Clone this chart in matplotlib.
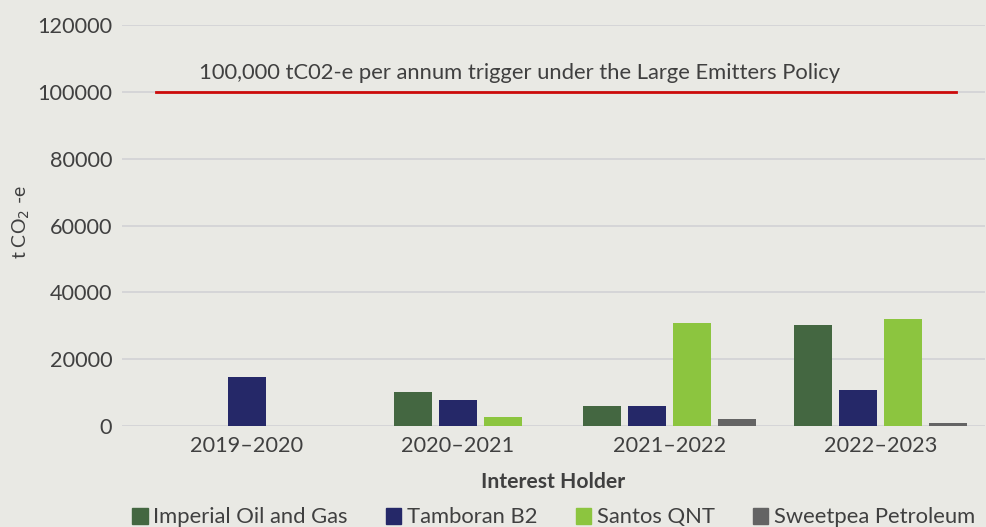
import matplotlib
matplotlib.use("Agg")
import matplotlib.pyplot as plt
from matplotlib.patches import Patch
import numpy as np

# data (None = no bar for that year)
years = ["2019\u20132020", "2020\u20132021", "2021\u20132022", "2022\u20132023"]
holders = ["Imperial Oil and Gas", "Tamboran B2", "Santos QNT", "Sweetpea Petroleum"]
imperial = [None, 10100, 5950, 30150]
tamboran = [14600, 7750, 5950, 10750]
santos = [None, 2700, 30750, 31950]
sweetpea = [None, None, 2100, 900]
trigger = 100000
trigger_label = "100,000 tC02-e per annum trigger under the Large Emitters Policy"
yticks = [0, 20000, 40000, 60000, 80000, 100000, 120000]

colors = ["#446741", "#252868", "#8cc53f", "#646464"]
bg = "#e9e9e4"
txt = "#404040"

plt.rcParams['font.family'] = ['Lato', 'DejaVu Sans']

fig = plt.figure(figsize=(9.87, 5.27), dpi=100, facecolor=bg)
ax = fig.add_axes([122/987, 101/527, 863/987, 401/527], facecolor=bg)

series = [imperial, tamboran, santos, sweetpea]
width = 0.18
step = 0.213
for i in range(len(years)):
    # only the holders with a value get a slot, centred on the year
    present = [k for k in range(len(series)) if series[k][i] is not None]
    n = len(present)
    for j, k in enumerate(present):
        x = i + (j - (n - 1) / 2) * step
        ax.bar(x, series[k][i], width=width, color=colors[k], zorder=3)

ax.plot([-0.427, 3.36], [trigger, trigger], color="#cc0a0a", lw=2, zorder=4)
ax.text(-0.225, trigger + 2700, trigger_label, fontsize=15.8, color=txt,
        va="bottom", ha="left")

ax.set_xlim(-0.59, 3.495)
ax.set_ylim(0, 120000)
ax.set_yticks(yticks)
ax.set_yticklabels([str(v) for v in yticks])
ax.set_xticks(range(len(years)))
ax.set_xticklabels(years)
ax.grid(axis="y", color="#d3d3d6", lw=1.3, zorder=0)
ax.tick_params(axis="both", length=0, labelsize=15.6, labelcolor=txt)
ax.tick_params(axis="y", pad=7)
ax.tick_params(axis="x", pad=7)
for s in ax.spines.values():
    s.set_visible(False)

ax.set_ylabel("t CO$_2$ -e", fontsize=14, color=txt)
ax.yaxis.set_label_coords(-0.104, 0.508)
ax.set_xlabel("Interest Holder", fontsize=15.2, fontweight="bold", color=txt, labelpad=12)

handles = [Patch(color=c) for c in colors]
fig.legend(handles, holders, loc="lower center", bbox_to_anchor=(0.561, -0.038),
           ncol=4, frameon=False, fontsize=15.8, handlelength=0.7, handleheight=0.75,
           handletextpad=0.25, columnspacing=1.75, labelcolor=txt)

fig.savefig("out.png", dpi=100, facecolor=bg)
